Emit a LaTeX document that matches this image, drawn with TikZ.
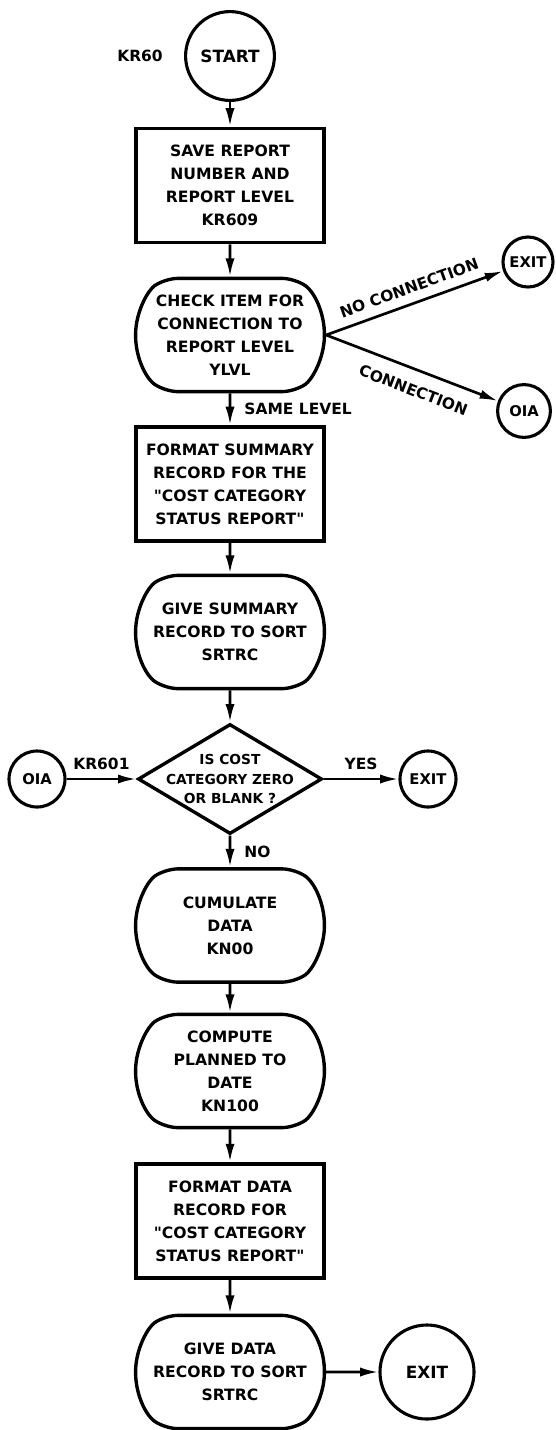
\documentclass[tikz,border=0pt]{standalone}
\usepackage{fontspec}
\setmainfont{DejaVu Sans}
\usetikzlibrary{shapes.geometric, shapes.misc, arrows.meta}

\begin{document}
\begin{tikzpicture}[x=0.025cm, y=-0.025cm,
        txt/.style={font=\bfseries\fontsize{11.1}{16.3}\selectfont, align=center},
        procbox/.style={txt, draw, line width=2.8pt, minimum width=4.7cm, minimum height=2.85cm, inner sep=0pt},
        routine/.style={txt, draw, line width=2.4pt, rounded rectangle, rounded rectangle arc length=110, rounded corners=9pt, minimum width=4.72cm, minimum height=2.83cm, inner sep=0pt},
        term/.style={draw, circle, line width=2.2pt, inner sep=0pt, font=\bfseries\fontsize{12}{14}\selectfont},
        smallterm/.style={term, font=\bfseries\fontsize{10.5}{12}\selectfont},
        decide/.style={draw, diamond, line width=2.4pt, minimum width=4.6cm, minimum height=2.75cm},
        dtxt/.style={font=\bfseries\fontsize{9.8}{13.8}\selectfont, align=center},
        lbl/.style={font=\bfseries\fontsize{11}{12}\selectfont},
        flow/.style={line width=1.9pt, -{Latex[length=13pt, width=6.5pt]}}
    ]
    \useasboundingbox (0,0) rectangle (556,1430);

    % Main column of steps
    \node[term, minimum size=2.22cm] (start) at (230,56) {START};
    \node[lbl] (kr60) at (140,56) {KR60};
    \node[procbox] (savenum) at (230,185.5) {SAVE REPORT\\NUMBER AND\\REPORT LEVEL\\KR609};
    \node[routine] (chkitem) at (230,335) {CHECK ITEM FOR\\CONNECTION TO\\REPORT LEVEL\\YLVL};
    \node[procbox] (fmtsum) at (230,484) {FORMAT SUMMARY\\RECORD FOR THE\\\textquotedbl COST CATEGORY\\STATUS REPORT\textquotedbl};
    \node[routine] (givesum) at (230,632) {GIVE SUMMARY\\RECORD TO SORT\\SRTRC};
    \node[decide] (iszero) at (230,779) {};
    \node[dtxt] (iszerotxt) at (iszero) {IS COST\\CATEGORY ZERO\\OR BLANK ?};
    \node[routine] (cumul) at (230,925.5) {CUMULATE\\DATA\\KN00};
    \node[routine] (compute) at (230,1071) {COMPUTE\\PLANNED TO\\DATE\\KN100};
    \node[procbox] (fmtdata) at (230,1221) {FORMAT DATA\\RECORD FOR\\\textquotedbl COST CATEGORY\\STATUS REPORT\textquotedbl};
    \node[routine] (givedata) at (230,1372) {GIVE DATA\\RECORD TO SORT\\SRTRC};

    % Connectors and exits
    \node[smallterm, minimum size=1.25cm] (exit1) at (528,262) {EXIT};
    \node[smallterm, minimum size=1.32cm] (oia1) at (524,411) {OIA};
    \node[smallterm, minimum size=1.4cm] (oia2) at (37,779) {OIA};
    \node[smallterm, minimum size=1.4cm] (exit2) at (428,779) {EXIT};
    \node[term, minimum size=2.35cm] (exit3) at (427,1372) {EXIT};

    % Flow lines
    \draw[flow] (start) -- (savenum);
    \draw[flow] (savenum) -- (chkitem);
    \draw[flow] (chkitem.east) -- node[lbl, sloped, above=3pt] (noconn) {NO CONNECTION} (exit1);
    \draw[flow] (chkitem.east) -- node[lbl, sloped, below=6pt, pos=0.55] (conn) {CONNECTION} (oia1);
    \draw[flow] (chkitem) -- node[lbl, right=6pt] (same) {SAME LEVEL} (fmtsum);
    \draw[flow] (fmtsum) -- (givesum);
    \draw[flow] (givesum) -- (iszero);
    \draw[flow] (oia2) -- node[lbl, above=2pt] (kr601) {KR601} (iszero);
    \draw[flow] (iszero) -- node[lbl, above=2pt] (yes) {YES} (exit2);
    \draw[flow] (iszero) -- node[lbl, right=6pt] (no) {NO} (cumul);
    \draw[flow] (cumul) -- (compute);
    \draw[flow] (compute) -- (fmtdata);
    \draw[flow] (fmtdata) -- (givedata);
    \draw[flow] (givedata) -- (exit3);
\end{tikzpicture}
\end{document}
